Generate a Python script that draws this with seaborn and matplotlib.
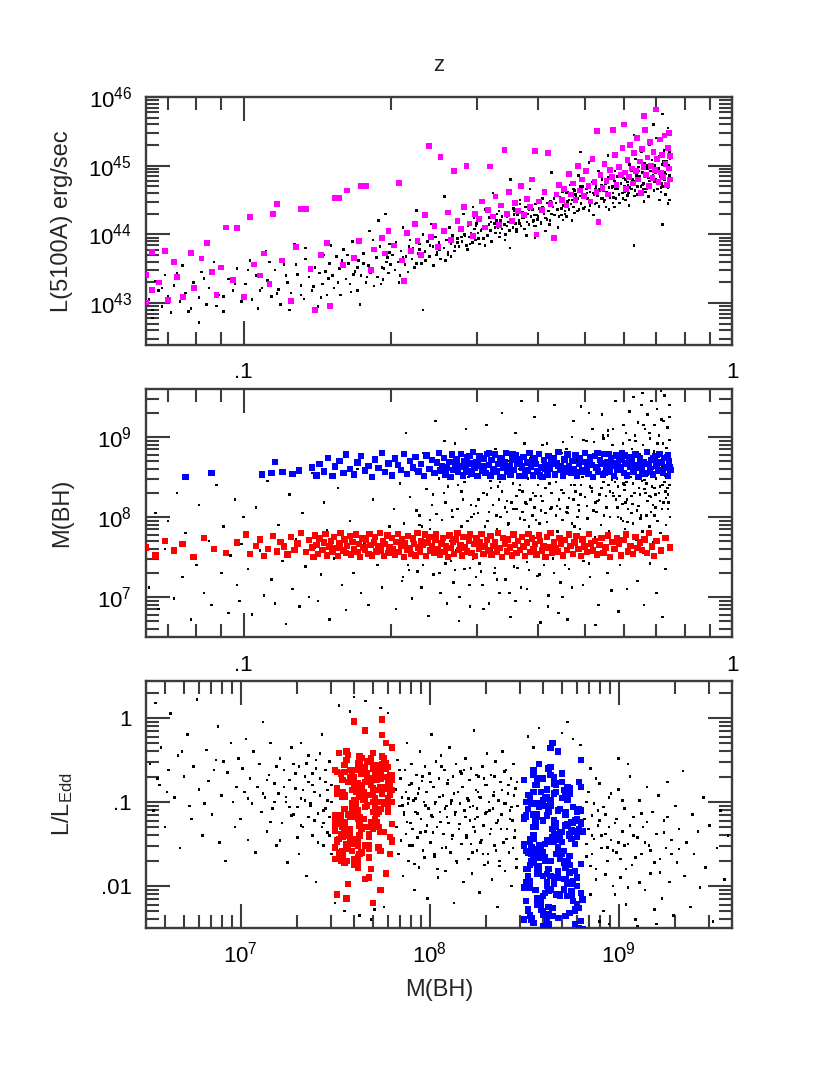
import numpy as np
import matplotlib
matplotlib.use('Agg')
import matplotlib.pyplot as plt
import seaborn as sns
from matplotlib.ticker import LogLocator, NullFormatter

# ---- top panel: redshift vs log L(5100A), all objects (black) ----
top_black = [
    (0.064, 43.05), (0.065, 42.78), (0.066, 43.32), (0.067, 43.18), (0.068, 42.95), (0.069, 43.41), (0.070, 43.10),
    (0.071, 42.86), (0.072, 43.26), (0.074, 43.02), (0.075, 43.55), (0.076, 43.15), (0.078, 42.92), (0.079, 43.30),
    (0.081, 43.08), (0.082, 43.45), (0.084, 42.98), (0.085, 43.22), (0.087, 43.60), (0.089, 43.12), (0.091, 42.88),
    (0.093, 43.35), (0.095, 43.18), (0.097, 43.50), (0.099, 43.02),
    (0.101, 43.28), (0.103, 43.62), (0.104, 43.05), (0.106, 43.40), (0.107, 42.92), (0.109, 43.22), (0.111, 43.75),
    (0.112, 43.33), (0.114, 43.10), (0.116, 43.48), (0.118, 43.20), (0.119, 42.98), (0.121, 43.56), (0.123, 43.30),
    (0.125, 43.15), (0.127, 43.85), (0.129, 43.42), (0.131, 43.26), (0.133, 43.06), (0.134, 43.64), (0.136, 43.38),
    (0.138, 43.18), (0.140, 43.52), (0.142, 42.95), (0.143, 43.44), (0.145, 43.28), (0.146, 43.70), (0.148, 43.12),
    (0.149, 43.36), (0.150, 43.58),
    (0.152, 43.40), (0.153, 43.22), (0.155, 43.68), (0.157, 43.50), (0.158, 43.12), (0.160, 43.78), (0.162, 43.35),
    (0.164, 43.58), (0.165, 43.28), (0.167, 43.90), (0.169, 43.46), (0.171, 43.18), (0.172, 43.62), (0.174, 43.40),
    (0.176, 43.72), (0.178, 43.30), (0.180, 43.55), (0.181, 44.05), (0.183, 43.48), (0.185, 43.25), (0.187, 43.66),
    (0.188, 43.38), (0.190, 43.82), (0.192, 43.52), (0.193, 43.34), (0.195, 44.30), (0.196, 43.60), (0.198, 43.44),
    (0.199, 43.74), (0.200, 43.56),
    (0.202, 43.70), (0.204, 43.48), (0.205, 43.88), (0.207, 43.60), (0.209, 43.40), (0.210, 43.76), (0.212, 44.10),
    (0.214, 43.56), (0.215, 43.68), (0.217, 43.45), (0.219, 43.92), (0.221, 43.64), (0.222, 43.80), (0.224, 43.52),
    (0.226, 44.35), (0.228, 43.72), (0.229, 43.86), (0.231, 43.58), (0.233, 44.00), (0.235, 43.75), (0.236, 43.62),
    (0.238, 43.90), (0.240, 43.68), (0.242, 44.15), (0.244, 43.82), (0.245, 43.55), (0.247, 43.96), (0.249, 43.74),
    (0.251, 43.88), (0.253, 43.64), (0.255, 44.05), (0.257, 43.80), (0.258, 44.55), (0.260, 43.92), (0.262, 43.70),
    (0.264, 44.10), (0.266, 43.86), (0.268, 43.98), (0.270, 43.76), (0.272, 44.20), (0.274, 43.94), (0.276, 43.82),
    (0.278, 44.06), (0.280, 43.90), (0.282, 44.30), (0.284, 43.98), (0.286, 43.84), (0.288, 44.12), (0.290, 43.96),
    (0.292, 44.02), (0.294, 43.88), (0.295, 44.40), (0.297, 44.08), (0.298, 43.92), (0.300, 44.16), (0.233, 42.90),
    (0.302, 44.02), (0.304, 43.86), (0.306, 44.22), (0.308, 44.08), (0.310, 43.94), (0.312, 44.36), (0.314, 44.12),
    (0.316, 43.98), (0.318, 44.25), (0.320, 44.06), (0.322, 43.90), (0.324, 44.60), (0.326, 44.16), (0.328, 44.02),
    (0.330, 44.30), (0.332, 44.10), (0.334, 43.96), (0.336, 44.20), (0.338, 44.08), (0.340, 44.42), (0.342, 44.14),
    (0.344, 44.00), (0.346, 44.26), (0.348, 44.18), (0.350, 44.06), (0.352, 44.80), (0.354, 44.22), (0.356, 44.10),
    (0.358, 44.34), (0.360, 44.16), (0.362, 44.04), (0.364, 44.28), (0.366, 44.20), (0.368, 44.50), (0.370, 44.12),
    (0.372, 44.32), (0.374, 44.24), (0.376, 44.08), (0.378, 44.40), (0.380, 44.18), (0.382, 44.30), (0.384, 44.14),
    (0.386, 44.66), (0.388, 44.26), (0.390, 44.36), (0.392, 44.20), (0.394, 44.12), (0.396, 44.44), (0.398, 44.28),
    (0.400, 44.22), (0.403, 44.38), (0.406, 44.16), (0.409, 44.52), (0.412, 44.30), (0.415, 44.24), (0.418, 44.46),
    (0.421, 44.34), (0.424, 44.20), (0.427, 44.90), (0.430, 44.40), (0.433, 44.28), (0.436, 44.56), (0.439, 44.36),
    (0.442, 44.26), (0.445, 44.48), (0.448, 44.38), (0.450, 44.62), (0.351, 43.80), (0.395, 43.95), (0.440, 44.10),
    (0.452, 44.42), (0.455, 44.30), (0.458, 44.60), (0.461, 44.48), (0.464, 44.36), (0.467, 44.72), (0.470, 44.50),
    (0.473, 44.40), (0.476, 44.64), (0.479, 44.54), (0.482, 44.34), (0.485, 44.86), (0.488, 44.56), (0.491, 44.46),
    (0.494, 44.70), (0.497, 44.58), (0.500, 44.40), (0.503, 44.66), (0.506, 44.52), (0.509, 45.05), (0.512, 44.62),
    (0.515, 44.48), (0.518, 44.76), (0.521, 44.60), (0.524, 44.44), (0.527, 44.70), (0.530, 44.56), (0.533, 44.92),
    (0.536, 44.66), (0.539, 44.52), (0.542, 44.80), (0.545, 44.64), (0.548, 44.50), (0.551, 44.74), (0.554, 44.62),
    (0.557, 45.15), (0.560, 44.68), (0.563, 44.56), (0.566, 44.84), (0.569, 44.70), (0.572, 44.54), (0.575, 44.78),
    (0.578, 44.66), (0.581, 44.98), (0.584, 44.72), (0.587, 44.58), (0.590, 44.86), (0.593, 44.74), (0.596, 44.60),
    (0.599, 44.82), (0.470, 44.20), (0.520, 44.28), (0.575, 44.40), (0.490, 45.20), (0.560, 44.36),
    (0.602, 44.70), (0.605, 44.50), (0.608, 44.88), (0.611, 44.76), (0.614, 44.60), (0.617, 45.02), (0.620, 44.82),
    (0.623, 44.66), (0.626, 44.94), (0.629, 44.78), (0.632, 44.56), (0.635, 45.10), (0.638, 44.86), (0.641, 44.70),
    (0.644, 44.98), (0.647, 44.84), (0.650, 44.62), (0.653, 45.20), (0.656, 44.90), (0.659, 44.74), (0.662, 45.04),
    (0.665, 44.88), (0.668, 44.66), (0.671, 44.96), (0.674, 44.82), (0.677, 45.30), (0.680, 44.92), (0.683, 44.72),
    (0.686, 45.08), (0.689, 44.86), (0.692, 44.64), (0.695, 45.00), (0.698, 44.90), (0.701, 45.40), (0.704, 44.94),
    (0.707, 44.76), (0.710, 45.14), (0.713, 44.88), (0.716, 44.68), (0.719, 45.02), (0.722, 44.92), (0.725, 45.22),
    (0.728, 44.80), (0.731, 44.58), (0.734, 45.06), (0.737, 44.96), (0.740, 44.74), (0.743, 45.28), (0.745, 44.86),
    (0.746, 45.10), (0.744, 44.50), (0.739, 45.55), (0.710, 44.50), (0.660, 44.48), (0.630, 45.45), (0.690, 45.60),
    (0.720, 45.75), (0.740, 44.45), (0.615, 44.42), (0.675, 44.55), (0.720, 44.14), (0.630, 43.84),
]
top_black_more = [
    (0.534, 44.41), (0.287, 43.78), (0.662, 44.95), (0.415, 44.05), (0.731, 44.72), (0.358, 44.29), (0.598, 44.52),
    (0.244, 43.96), (0.476, 44.31), (0.689, 45.02), (0.321, 44.18), (0.557, 44.83), (0.403, 44.47), (0.716, 44.62),
    (0.266, 43.68), (0.622, 44.93), (0.451, 44.21), (0.379, 43.98), (0.745, 45.20), (0.509, 44.35), (0.296, 44.24),
    (0.584, 44.66), (0.432, 44.52), (0.677, 44.78), (0.343, 43.92), (0.611, 44.57), (0.218, 43.82), (0.489, 44.70),
    (0.703, 44.66), (0.368, 44.44), (0.547, 44.48), (0.259, 43.62), (0.641, 44.58), (0.397, 44.12), (0.724, 45.06),
    (0.461, 44.62), (0.312, 43.84), (0.576, 44.92), (0.427, 44.30), (0.655, 44.72), (0.233, 43.72), (0.522, 44.58),
    (0.384, 44.36), (0.694, 44.98), (0.335, 44.02), (0.606, 44.80), (0.468, 44.44), (0.739, 44.68), (0.279, 43.96),
    (0.563, 44.54), (0.418, 44.22), (0.633, 44.64), (0.349, 44.32), (0.712, 44.84), (0.496, 44.38), (0.252, 43.78),
    (0.589, 44.46), (0.444, 44.54), (0.668, 44.88), (0.327, 44.10), (0.541, 44.72), (0.391, 44.18), (0.727, 44.90),
    (0.303, 43.94), (0.617, 44.68), (0.483, 44.52), (0.226, 43.58), (0.571, 44.60), (0.409, 44.40), (0.683, 44.70),
    (0.362, 44.08), (0.528, 44.46), (0.648, 44.82), (0.274, 43.88), (0.455, 44.34), (0.706, 45.12), (0.338, 44.26),
    (0.593, 44.74), (0.423, 44.14), (0.744, 44.82), (0.291, 43.86), (0.552, 44.40), (0.372, 44.24), (0.659, 44.66),
    (0.505, 44.60), (0.241, 43.84), (0.627, 44.76), (0.436, 44.46), (0.698, 44.80), (0.318, 44.14), (0.568, 44.68),
    (0.401, 44.26), (0.737, 44.96), (0.473, 44.66), (0.262, 43.74), (0.603, 44.62), (0.354, 44.20), (0.671, 45.00),
    (0.517, 44.50), (0.448, 44.28), (0.212, 43.66), (0.583, 44.84), (0.376, 44.30), (0.719, 44.74), (0.306, 44.06),
    (0.639, 44.86), (0.491, 44.44), (0.412, 44.34), (0.686, 44.92), (0.346, 44.12), (0.558, 44.56), (0.268, 43.92),
    (0.612, 44.72), (0.464, 44.50), (0.732, 44.88), (0.329, 44.20), (0.536, 44.64), (0.387, 44.42), (0.651, 44.70),
    (0.283, 44.00), (0.579, 44.52), (0.438, 44.36), (0.709, 44.96), (0.367, 44.16), (0.512, 44.42), (0.248, 43.70),
    (0.625, 44.80), (0.478, 44.58), (0.694, 44.76), (0.315, 43.98), (0.544, 44.52), (0.406, 44.18), (0.741, 45.00),
    (0.357, 44.38), (0.599, 44.90), (0.458, 44.26), (0.229, 43.78), (0.665, 44.62), (0.394, 44.28), (0.526, 44.66),
    (0.299, 44.12), (0.645, 44.92), (0.486, 44.36), (0.721, 44.70), (0.333, 44.34), (0.571, 44.46), (0.425, 44.48),
    (0.678, 44.82), (0.271, 43.82), (0.608, 44.66),
    (0.068, 43.22), (0.083, 43.36), (0.091, 43.10), (0.077, 42.88), (0.102, 43.48), (0.117, 43.14), (0.128, 43.56),
    (0.139, 43.24), (0.147, 43.46), (0.156, 43.30), (0.163, 43.70), (0.171, 43.52), (0.179, 43.38), (0.186, 43.76),
    (0.194, 43.50), (0.073, 43.44), (0.088, 42.96), (0.108, 43.18), (0.122, 43.40), (0.134, 43.80), (0.144, 43.08),
    (0.159, 43.62), (0.168, 43.42), (0.176, 43.58), (0.184, 43.92), (0.191, 43.28), (0.197, 43.66), (0.065, 42.90),
    (0.096, 43.28), (0.113, 43.60), (0.131, 43.12), (0.151, 43.84), (0.166, 43.16), (0.182, 43.44), (0.199, 43.86),
    (0.081, 42.72), (0.124, 42.90), (0.173, 42.98), (0.208, 43.30), (0.189, 44.20),
]

# magenta subsample in the top panel
top_magenta = [
    (0.063, 43.41), (0.063, 43.01), (0.065, 43.74), (0.065, 43.19), (0.067, 43.30), (0.069, 43.76), (0.070, 43.05),
    (0.072, 43.60), (0.073, 43.38), (0.075, 43.09), (0.078, 43.73), (0.079, 43.22), (0.082, 43.65), (0.084, 43.87),
    (0.086, 43.45), (0.088, 43.12), (0.090, 43.52), (0.092, 44.10), (0.095, 43.34), (0.097, 44.09),
    (0.100, 43.09), (0.103, 44.25), (0.105, 43.56), (0.108, 43.40), (0.110, 43.72), (0.113, 43.28), (0.115, 44.30),
    (0.117, 44.44), (0.120, 43.62), (0.125, 43.03), (0.128, 43.82), (0.131, 44.37), (0.134, 44.37), (0.137, 43.50),
    (0.140, 42.90), (0.144, 43.70), (0.148, 43.88), (0.150, 42.96), (0.154, 44.53), (0.157, 44.53), (0.160, 43.55),
    (0.163, 44.64), (0.168, 43.66), (0.172, 43.90), (0.174, 44.70), (0.178, 44.70), (0.182, 43.48), (0.185, 43.78),
    (0.192, 43.95), (0.195, 43.72), (0.198, 44.05),
    (0.203, 43.84), (0.208, 44.75), (0.211, 43.62), (0.213, 43.32), (0.216, 44.02), (0.220, 43.76), (0.224, 44.15),
    (0.227, 43.90), (0.231, 43.70), (0.235, 44.28), (0.240, 45.29), (0.242, 43.96), (0.246, 44.12), (0.250, 43.82),
    (0.253, 45.13), (0.257, 44.05), (0.262, 44.32), (0.266, 43.92), (0.270, 44.92), (0.274, 44.20), (0.279, 44.08),
    (0.283, 44.40), (0.286, 45.00), (0.290, 44.16), (0.295, 43.98), (0.298, 44.30),
    (0.303, 44.22), (0.308, 44.48), (0.312, 44.10), (0.316, 44.36), (0.320, 44.99), (0.324, 44.26), (0.328, 44.55),
    (0.333, 44.14), (0.337, 44.42), (0.342, 45.23), (0.346, 44.30), (0.350, 44.62), (0.355, 44.20), (0.360, 44.46),
    (0.365, 44.34), (0.370, 44.70), (0.375, 44.28), (0.380, 44.52), (0.386, 44.40), (0.390, 44.80), (0.395, 45.21),
    (0.398, 44.00), (0.402, 44.48), (0.408, 44.36), (0.413, 44.62), (0.420, 45.18), (0.425, 44.44), (0.432, 43.95),
    (0.437, 44.58), (0.443, 44.72), (0.448, 44.50),
    (0.453, 44.66), (0.458, 44.42), (0.463, 44.88), (0.468, 44.58), (0.473, 44.74), (0.478, 44.50), (0.483, 45.00),
    (0.488, 44.64), (0.493, 44.80), (0.498, 44.56), (0.503, 44.92), (0.508, 44.70), (0.513, 44.48), (0.518, 45.10),
    (0.523, 44.76), (0.528, 44.62), (0.530, 45.50), (0.533, 44.18), (0.538, 44.86), (0.543, 44.68), (0.548, 45.02),
    (0.553, 44.78), (0.558, 44.58), (0.563, 44.94), (0.568, 44.84), (0.570, 45.52), (0.575, 45.16), (0.580, 44.72),
    (0.586, 44.98), (0.592, 44.86), (0.597, 45.26),
    (0.600, 45.60), (0.603, 44.90), (0.607, 44.66), (0.611, 45.08), (0.615, 44.84), (0.619, 45.30), (0.623, 44.96),
    (0.627, 44.74), (0.631, 45.18), (0.635, 44.92), (0.639, 45.40), (0.643, 44.80), (0.647, 45.06), (0.651, 44.60),
    (0.655, 45.24), (0.659, 44.98), (0.660, 45.72), (0.663, 45.52), (0.667, 44.86), (0.671, 45.12), (0.675, 44.70),
    (0.679, 45.34), (0.683, 45.00), (0.687, 44.82), (0.691, 45.20), (0.695, 44.94), (0.700, 45.82), (0.703, 45.10),
    (0.707, 44.76), (0.711, 45.38), (0.715, 44.90), (0.719, 45.16), (0.723, 44.84), (0.727, 45.44), (0.731, 45.02),
    (0.735, 44.72), (0.739, 45.26), (0.742, 44.96), (0.744, 45.48), (0.746, 45.14), (0.746, 44.80),
]

# ---- middle panel: redshift vs log M(BH), all objects (black) ----
mid_black = [
    (0.064, 7.12), (0.066, 8.05), (0.067, 6.85), (0.069, 7.60), (0.070, 7.95), (0.072, 6.98), (0.073, 8.30),
    (0.075, 7.25), (0.076, 7.80), (0.078, 6.72), (0.080, 7.40), (0.081, 8.15), (0.083, 7.05), (0.085, 7.70),
    (0.086, 6.90), (0.088, 8.40), (0.090, 7.30), (0.091, 7.88), (0.093, 6.80), (0.094, 7.52), (0.096, 8.22),
    (0.097, 7.15), (0.098, 6.95), (0.099, 7.66), (0.100, 8.00),
    (0.102, 7.35), (0.104, 6.78), (0.106, 8.12), (0.108, 7.58), (0.110, 7.02), (0.112, 8.45), (0.114, 7.22),
    (0.116, 6.92), (0.118, 7.90), (0.120, 7.45), (0.122, 6.66), (0.124, 8.28), (0.126, 7.10), (0.128, 7.72),
    (0.130, 6.88), (0.132, 8.05), (0.134, 7.38), (0.136, 7.00), (0.138, 8.55), (0.140, 7.62), (0.142, 6.95),
    (0.144, 7.28), (0.146, 8.18), (0.148, 7.84), (0.150, 6.72), (0.153, 7.48), (0.156, 8.36), (0.159, 7.15),
    (0.162, 6.84), (0.165, 7.95), (0.168, 7.30), (0.171, 8.60), (0.174, 7.05), (0.177, 7.68), (0.180, 6.90),
    (0.184, 8.22), (0.188, 7.40), (0.192, 7.12), (0.196, 8.70), (0.199, 7.88),
    (0.201, 7.55), (0.203, 8.10), (0.205, 6.85), (0.207, 7.78), (0.209, 8.42), (0.211, 7.20), (0.213, 7.92),
    (0.215, 9.05), (0.217, 7.40), (0.219, 8.25), (0.221, 6.98), (0.223, 7.65), (0.225, 8.58), (0.227, 7.32),
    (0.229, 8.02), (0.231, 7.12), (0.233, 8.80), (0.235, 7.50), (0.237, 8.35), (0.239, 6.76), (0.241, 7.85),
    (0.243, 8.15), (0.245, 7.28), (0.247, 9.20), (0.249, 7.62), (0.251, 8.48), (0.253, 7.05), (0.255, 7.96),
    (0.257, 8.30), (0.259, 7.42), (0.261, 6.92), (0.263, 8.65), (0.265, 7.70), (0.267, 8.08), (0.269, 7.18),
    (0.271, 8.92), (0.273, 7.58), (0.275, 8.40), (0.277, 7.00), (0.279, 7.88), (0.281, 8.22), (0.283, 7.35),
    (0.285, 9.10), (0.287, 7.75), (0.289, 8.50), (0.291, 6.88), (0.293, 8.00), (0.295, 7.48), (0.297, 8.70),
    (0.299, 7.25), (0.292, 8.15), (0.276, 6.70), (0.258, 8.95), (0.232, 7.88), (0.212, 8.60),
    (0.302, 8.05), (0.304, 7.42), (0.306, 8.62), (0.308, 7.15), (0.310, 8.30), (0.312, 7.70), (0.314, 9.15),
    (0.316, 7.95), (0.318, 6.92), (0.320, 8.45), (0.322, 7.58), (0.324, 8.15), (0.326, 7.30), (0.328, 8.85),
    (0.330, 7.85), (0.332, 8.38), (0.334, 7.05), (0.336, 8.00), (0.338, 9.30), (0.340, 7.68), (0.342, 8.52),
    (0.344, 7.22), (0.346, 8.20), (0.348, 7.90), (0.350, 8.70), (0.352, 6.75), (0.354, 7.50), (0.356, 8.42),
    (0.358, 7.80), (0.360, 9.05), (0.362, 8.10), (0.364, 7.36), (0.366, 8.60), (0.368, 7.98), (0.370, 7.12),
    (0.372, 8.32), (0.374, 7.62), (0.376, 8.92), (0.378, 8.18), (0.380, 7.44), (0.382, 8.48), (0.384, 7.88),
    (0.386, 6.95), (0.388, 8.75), (0.390, 8.02), (0.392, 7.55), (0.394, 9.25), (0.396, 8.26), (0.398, 7.74),
    (0.400, 8.55), (0.403, 7.28), (0.406, 8.08), (0.409, 8.90), (0.412, 7.66), (0.415, 8.36), (0.418, 7.94),
    (0.421, 7.02), (0.424, 8.64), (0.427, 8.12), (0.430, 7.48), (0.433, 9.40), (0.436, 8.44), (0.439, 7.82),
    (0.442, 8.22), (0.445, 7.18), (0.448, 8.80), (0.450, 7.96), (0.441, 6.80), (0.405, 6.68), (0.371, 9.45),
    (0.452, 8.30), (0.455, 7.70), (0.458, 8.85), (0.461, 8.05), (0.464, 7.35), (0.467, 8.58), (0.470, 7.92),
    (0.473, 9.20), (0.476, 8.40), (0.479, 7.60), (0.482, 8.72), (0.485, 8.15), (0.488, 7.85), (0.491, 9.38),
    (0.494, 8.50), (0.497, 7.45), (0.500, 8.25), (0.503, 8.95), (0.506, 7.98), (0.509, 8.62), (0.512, 7.25),
    (0.515, 8.36), (0.518, 9.10), (0.521, 8.08), (0.524, 7.75), (0.527, 8.80), (0.530, 8.20), (0.533, 6.90),
    (0.536, 8.55), (0.539, 7.90), (0.542, 9.28), (0.545, 8.44), (0.548, 7.62), (0.551, 8.68), (0.554, 8.12),
    (0.557, 9.02), (0.560, 7.82), (0.563, 8.32), (0.566, 7.08), (0.569, 8.90), (0.572, 8.26), (0.575, 7.70),
    (0.578, 9.45), (0.581, 8.48), (0.584, 8.00), (0.587, 8.78), (0.590, 7.40), (0.593, 8.60), (0.596, 8.16),
    (0.599, 9.15), (0.460, 6.72), (0.495, 7.15), (0.525, 6.65), (0.556, 7.30), (0.585, 6.82), (0.470, 9.00),
    (0.510, 9.30), (0.545, 8.98), (0.575, 8.70), (0.598, 7.95),
    (0.602, 8.40), (0.604, 7.85), (0.607, 9.05), (0.609, 8.22), (0.612, 8.68), (0.614, 7.60), (0.617, 9.32),
    (0.619, 8.50), (0.622, 8.05), (0.624, 8.85), (0.627, 7.92), (0.629, 9.50), (0.632, 8.30), (0.634, 8.95),
    (0.637, 7.72), (0.639, 8.62), (0.642, 9.18), (0.644, 8.14), (0.647, 8.78), (0.649, 7.98), (0.652, 9.40),
    (0.654, 8.45), (0.657, 8.90), (0.659, 7.55), (0.662, 8.35), (0.664, 9.10), (0.667, 8.70), (0.669, 8.02),
    (0.672, 9.28), (0.674, 8.55), (0.677, 7.88), (0.679, 8.98), (0.682, 8.25), (0.684, 9.45), (0.687, 8.60),
    (0.689, 7.68), (0.692, 8.82), (0.694, 9.15), (0.697, 8.12), (0.699, 8.48), (0.702, 9.35), (0.704, 7.95),
    (0.707, 8.75), (0.709, 9.02), (0.712, 8.38), (0.714, 7.80), (0.717, 9.22), (0.719, 8.64), (0.722, 8.92),
    (0.724, 8.18), (0.727, 9.52), (0.729, 8.52), (0.732, 7.90), (0.734, 8.86), (0.737, 9.12), (0.739, 8.28),
    (0.742, 8.70), (0.744, 9.40), (0.746, 8.00), (0.745, 8.96), (0.640, 7.20), (0.700, 7.05), (0.660, 6.90),
    (0.730, 7.35), (0.610, 7.10), (0.680, 7.42), (0.720, 6.75), (0.655, 9.55), (0.715, 9.58), (0.740, 7.60),
]
mid_black_more = [
    (0.534, 8.21), (0.287, 7.95), (0.662, 8.46), (0.415, 8.05), (0.731, 8.32), (0.358, 7.38), (0.598, 8.92),
    (0.244, 8.28), (0.476, 7.88), (0.689, 8.15), (0.321, 8.36), (0.557, 9.08), (0.403, 7.92), (0.716, 8.58),
    (0.266, 7.45), (0.622, 8.26), (0.451, 8.94), (0.379, 8.16), (0.745, 8.40), (0.509, 7.42), (0.296, 8.04),
    (0.584, 8.38), (0.432, 7.30), (0.677, 9.05), (0.343, 8.12), (0.611, 7.94), (0.218, 7.34), (0.489, 8.28),
    (0.703, 8.92), (0.368, 8.40), (0.547, 8.02), (0.259, 8.18), (0.641, 8.52), (0.397, 7.96), (0.724, 9.20),
    (0.461, 8.12), (0.312, 7.88), (0.576, 8.44), (0.427, 8.30), (0.655, 7.82), (0.233, 7.40), (0.522, 8.94),
    (0.384, 7.34), (0.694, 8.36), (0.335, 8.44), (0.606, 8.18), (0.468, 8.40), (0.739, 8.10), (0.279, 8.32),
    (0.563, 8.00), (0.418, 8.92), (0.633, 9.02), (0.349, 7.92), (0.712, 8.20), (0.496, 8.96), (0.252, 7.30),
    (0.589, 8.26), (0.444, 8.10), (0.668, 8.42), (0.327, 7.36), (0.541, 8.36), (0.391, 8.30), (0.727, 8.44),
    (0.303, 8.22), (0.617, 8.96), (0.483, 8.00), (0.226, 8.08), (0.571, 9.10), (0.409, 8.20), (0.683, 8.06),
    (0.362, 8.26), (0.528, 8.06), (0.648, 8.28), (0.274, 8.10), (0.455, 7.40), (0.706, 8.64), (0.338, 8.32),
    (0.593, 7.98), (0.423, 8.42), (0.744, 9.25), (0.291, 7.36), (0.552, 8.26), (0.372, 8.06), (0.659, 9.15),
    (0.505, 8.14), (0.241, 7.96), (0.627, 8.42), (0.436, 8.02), (0.698, 8.28), (0.318, 8.06), (0.568, 8.46),
    (0.401, 8.40), (0.737, 8.36), (0.473, 8.22), (0.262, 8.38), (0.603, 8.34), (0.354, 8.18), (0.671, 8.20),
    (0.517, 8.32), (0.448, 8.34), (0.212, 7.25), (0.583, 8.12), (0.376, 7.96), (0.719, 8.10), (0.306, 7.32),
    (0.639, 8.08), (0.491, 8.40), (0.412, 7.40), (0.686, 8.38), (0.346, 8.06), (0.558, 8.40), (0.268, 8.00),
    (0.612, 8.10), (0.464, 8.24), (0.732, 8.24), (0.329, 8.02), (0.536, 8.28), (0.387, 8.22), (0.651, 8.02),
    (0.283, 8.44), (0.579, 8.22), (0.438, 8.14), (0.709, 8.30), (0.367, 8.34), (0.512, 8.38), (0.248, 8.04),
    (0.625, 8.16), (0.478, 8.32), (0.694, 8.02), (0.315, 8.28), (0.544, 9.02), (0.406, 8.26), (0.741, 8.18),
    (0.357, 8.10), (0.599, 8.42), (0.458, 8.06), (0.229, 7.90), (0.665, 8.30), (0.394, 8.12), (0.526, 8.18),
    (0.299, 8.14), (0.645, 8.36), (0.486, 8.08), (0.721, 8.40), (0.333, 8.22), (0.571, 8.30), (0.425, 8.10),
    (0.678, 8.26), (0.271, 7.34), (0.608, 8.44),
    (0.450, 7.00), (0.380, 7.10), (0.330, 7.22), (0.420, 6.88), (0.290, 7.15), (0.360, 6.95), (0.400, 7.26),
    (0.470, 7.12), (0.310, 6.85), (0.350, 7.05),
]

# ---- red selection: 3e7 < M(BH) < 6.5e7 (middle and bottom panels) ----
red_z = [
    0.063, 0.066, 0.069, 0.072, 0.075, 0.079, 0.083, 0.087, 0.092, 0.097,
    0.101, 0.103, 0.106, 0.108, 0.110, 0.112, 0.115, 0.117, 0.119, 0.121,
    0.123, 0.125, 0.127, 0.129, 0.131, 0.134, 0.136, 0.138, 0.139, 0.140,
    0.141, 0.142, 0.143, 0.145, 0.146, 0.147, 0.148, 0.150, 0.151, 0.152,
    0.153, 0.155, 0.156, 0.157, 0.158, 0.160, 0.161, 0.162, 0.163, 0.165,
    0.166, 0.167, 0.168, 0.170, 0.171, 0.172, 0.173, 0.175, 0.176, 0.177,
    0.178, 0.180, 0.181, 0.182, 0.183, 0.185, 0.186, 0.187, 0.189, 0.190,
    0.191, 0.193, 0.194, 0.195, 0.197, 0.198, 0.199, 0.201, 0.202, 0.204,
    0.205, 0.207, 0.208, 0.210, 0.211, 0.213, 0.214, 0.216, 0.217, 0.219,
    0.220, 0.222, 0.223, 0.225, 0.227, 0.228, 0.230, 0.231, 0.233, 0.235,
    0.236, 0.238, 0.240, 0.241, 0.243, 0.245, 0.247, 0.248, 0.250, 0.252,
    0.254, 0.256, 0.258, 0.260, 0.262, 0.264, 0.266, 0.268, 0.270, 0.272,
    0.274, 0.276, 0.278, 0.280, 0.282, 0.284, 0.287, 0.289, 0.291, 0.293,
    0.296, 0.298, 0.300, 0.303, 0.305, 0.307, 0.310, 0.312, 0.315, 0.317,
    0.320, 0.322, 0.325, 0.327, 0.330, 0.332, 0.335, 0.338, 0.340, 0.343,
    0.346, 0.348, 0.351, 0.354, 0.357, 0.359, 0.362, 0.365, 0.368, 0.371,
    0.374, 0.377, 0.380, 0.383, 0.386, 0.389, 0.392, 0.395, 0.398, 0.402,
    0.405, 0.408, 0.411, 0.415, 0.418, 0.421, 0.425, 0.428, 0.432, 0.435,
    0.439, 0.443, 0.447, 0.451, 0.455, 0.459, 0.463, 0.467, 0.472, 0.476,
    0.480, 0.485, 0.490, 0.494, 0.499, 0.504, 0.509, 0.514, 0.519, 0.524,
    0.529, 0.535, 0.540, 0.546, 0.551, 0.557, 0.563, 0.569, 0.575, 0.581,
    0.587, 0.593, 0.600, 0.606, 0.613, 0.620, 0.627, 0.634, 0.641, 0.648,
    0.655, 0.662, 0.670, 0.677, 0.685, 0.693, 0.701, 0.716, 0.731, 0.746,
]
red_logm = [
    7.62, 7.52, 7.70, 7.58, 7.66, 7.50, 7.74, 7.60, 7.55, 7.68,
    7.78, 7.54, 7.64, 7.72, 7.51, 7.60, 7.76, 7.57, 7.69, 7.63,
    7.53, 7.75, 7.59, 7.67, 7.80, 7.56, 7.71, 7.62, 7.50, 7.77,
    7.65, 7.54, 7.73, 7.59, 7.68, 7.79, 7.52, 7.63, 7.70, 7.57,
    7.75, 7.61, 7.51, 7.67, 7.80, 7.58, 7.72, 7.55, 7.64, 7.76,
    7.53, 7.69, 7.60, 7.78, 7.56, 7.66, 7.50, 7.73, 7.62, 7.59,
    7.71, 7.54, 7.79, 7.65, 7.52, 7.68, 7.75, 7.57, 7.63, 7.80,
    7.58, 7.70, 7.51, 7.66, 7.77, 7.55, 7.62, 7.74, 7.60, 7.53,
    7.69, 7.79, 7.56, 7.64, 7.72, 7.50, 7.67, 7.59, 7.76, 7.61,
    7.54, 7.73, 7.66, 7.52, 7.80, 7.62, 7.57, 7.70, 7.65, 7.78,
    7.51, 7.68, 7.75, 7.58, 7.63, 7.55, 7.71, 7.79, 7.60, 7.53,
    7.67, 7.74, 7.56, 7.64, 7.50, 7.77, 7.61, 7.69, 7.54, 7.72,
    7.80, 7.59, 7.65, 7.52, 7.75, 7.62, 7.57, 7.70, 7.78, 7.55,
    7.66, 7.51, 7.73, 7.60, 7.68, 7.79, 7.54, 7.63, 7.71, 7.58,
    7.76, 7.53, 7.64, 7.69, 7.56, 7.80, 7.61, 7.50, 7.74, 7.67,
    7.57, 7.72, 7.62, 7.52, 7.78, 7.65, 7.55, 7.70, 7.59, 7.75,
    7.63, 7.51, 7.68, 7.79, 7.56, 7.73, 7.60, 7.66, 7.53, 7.77,
    7.70, 7.58, 7.64, 7.50, 7.75, 7.62, 7.80, 7.55, 7.69, 7.61,
    7.57, 7.74, 7.66, 7.52, 7.71, 7.59, 7.78, 7.64, 7.54, 7.68,
    7.76, 7.60, 7.51, 7.72, 7.63, 7.56, 7.79, 7.67, 7.58, 7.70,
    7.53, 7.65, 7.74, 7.55, 7.62, 7.77, 7.50, 7.69, 7.60, 7.73,
    7.66, 7.52, 7.71, 7.78, 7.57, 7.64, 7.54, 7.75, 7.61, 7.68,
    7.59, 7.72, 7.55, 7.80, 7.63, 7.51, 7.70, 7.58, 7.74, 7.62,
]
red_loglam = [
    -0.85, -1.22, -0.60, -1.45, -0.98, -1.68, -0.72, -1.10, -1.35, -0.52,
    -1.02, -1.58, -0.66, -1.28, -0.90, -1.75, -0.48, -1.15, -0.80, -1.40,
    -1.62, -0.55, -1.05, -1.30, -0.74, -1.50, -0.95, -1.20, -0.62, -1.85,
    -0.88, -1.42, -0.58, -1.12, -1.66, -0.78, -1.25, -0.45, -1.00, -1.55,
    -0.70, -1.18, -1.48, -0.92, -0.35, -1.32, -0.64, -1.08, -1.60, -0.82,
    -1.38, -0.50, -1.14, -0.76, -1.70, -0.96, -1.26, -0.56, -1.44, -0.86,
    -1.06, -1.64, -0.68, -1.20, -0.42, -1.52, -0.90, -1.34, -0.60, -1.00,
    -1.46, -0.72, -1.16, -1.92, -0.84, -1.28, -0.54, -1.58, -0.98, -0.66,
    -1.24, -0.80, -1.40, -0.48, -1.10, -1.68, -0.74, -1.02, -1.36, -0.62,
    -0.94, -1.54, -0.58, -1.22, -0.86, -1.74, -0.44, -1.12, -1.30, -0.70,
    -1.48, -0.92, -0.20, -1.18, -1.62, -0.64, -1.04, -1.42, -0.78, -1.26,
    -0.52, -1.08, -1.56, -0.82, -1.34, -0.60, -1.00, -1.80, -0.88, -1.14,
    -0.68, -1.44, -0.96, -1.22, -0.46, -1.66, -0.76, -1.32, -1.06, -0.56,
    -1.52, -0.84, -1.12, -0.04, -1.38, -0.72, -1.58, -0.94, -1.20, -0.62,
    -1.02, -1.70, -0.80, -1.28, -0.50, -1.46, -0.88, -1.16, -2.05, -0.66,
    -1.36, -0.74, -1.10, -1.60, -0.58, -0.98, -1.24, -0.42, -1.50, -0.86,
    -1.18, -0.64, -1.42, -0.92, -2.15, -1.30, -0.70, -1.06, -1.64, -0.54,
    -0.90, -1.34, -0.60, -1.54, -1.00, -0.78, -1.26, -1.72, -0.48, -1.12,
    -1.40, -0.82, -0.15, -1.20, -0.66, -1.58, -0.96, -1.32, -0.74, -1.90,
    -0.58, -1.08, -1.46, -0.86, -1.28, -0.40, -1.62, -1.04, -0.70, -2.20,
    -1.16, -0.62, -1.36, -0.94, -1.52, -0.30, -1.22, -0.80, -1.68, -1.00,
    -0.76, -1.44, -0.56, -1.12, -1.98, -0.88, -1.30, -0.02, -1.06, -1.56,
    -0.68, -1.24, -0.92, -1.48, -0.52, -2.10, -0.84, -1.38, -0.64, -1.78,
]

# ---- blue selection: 3e8 < M(BH) < 6.5e8 ----
blue_z = [
    0.076, 0.086, 0.109, 0.114, 0.116, 0.120, 0.126, 0.130, 0.138, 0.141,
    0.143, 0.146, 0.149, 0.152, 0.154, 0.157, 0.160, 0.162, 0.165, 0.168,
    0.171, 0.174, 0.177, 0.180, 0.183, 0.186, 0.189, 0.192, 0.195, 0.198,
    0.201, 0.204, 0.207, 0.210, 0.213, 0.216, 0.219, 0.222, 0.225, 0.228,
    0.231, 0.234, 0.237, 0.240, 0.243, 0.246, 0.249, 0.251, 0.253, 0.255,
    0.257, 0.259, 0.261, 0.263, 0.265, 0.267, 0.269, 0.271, 0.273, 0.275,
    0.277, 0.279, 0.281, 0.283, 0.285, 0.287, 0.289, 0.291, 0.293, 0.295,
    0.297, 0.299, 0.301, 0.304, 0.306, 0.308, 0.311, 0.313, 0.315, 0.318,
    0.320, 0.322, 0.325, 0.327, 0.330, 0.332, 0.335, 0.337, 0.340, 0.342,
    0.345, 0.347, 0.350, 0.352, 0.355, 0.358, 0.360, 0.363, 0.366, 0.368,
    0.371, 0.374, 0.377, 0.380, 0.382, 0.385, 0.388, 0.391, 0.394, 0.397,
    0.400, 0.403, 0.406, 0.409, 0.412, 0.415, 0.418, 0.421, 0.424, 0.428,
    0.431, 0.434, 0.437, 0.441, 0.444, 0.447, 0.451, 0.454, 0.457, 0.461,
    0.464, 0.468, 0.471, 0.475, 0.478, 0.482, 0.486, 0.489, 0.493, 0.497,
    0.500, 0.504, 0.508, 0.512, 0.516, 0.520, 0.524, 0.528, 0.532, 0.536,
    0.540, 0.544, 0.548, 0.552, 0.556, 0.561, 0.565, 0.569, 0.574, 0.578,
    0.583, 0.587, 0.592, 0.596, 0.601, 0.605, 0.610, 0.615, 0.619, 0.624,
    0.629, 0.634, 0.639, 0.644, 0.649, 0.654, 0.659, 0.664, 0.669, 0.674,
    0.679, 0.684, 0.690, 0.695, 0.700, 0.706, 0.711, 0.717, 0.722, 0.728,
    0.733, 0.739, 0.744, 0.748, 0.604, 0.545, 0.486, 0.427, 0.372, 0.318,
    0.655, 0.575, 0.512, 0.455, 0.405, 0.355, 0.301, 0.720, 0.690, 0.630,
    0.560, 0.495, 0.440, 0.390, 0.340, 0.290, 0.745, 0.705, 0.665, 0.615,
    0.585, 0.530, 0.475, 0.420, 0.365, 0.310, 0.270, 0.740, 0.680, 0.640,
    0.595, 0.550, 0.505, 0.460, 0.415, 0.375, 0.335, 0.285, 0.735, 0.710,
]
blue_logm = [
    8.50, 8.55, 8.53, 8.55, 8.69, 8.56, 8.54, 8.58, 8.62, 8.52,
    8.66, 8.57, 8.74, 8.51, 8.63, 8.70, 8.55, 8.78, 8.60, 8.53,
    8.68, 8.76, 8.58, 8.64, 8.50, 8.72, 8.61, 8.80, 8.56, 8.67,
    8.52, 8.73, 8.65, 8.59, 8.79, 8.54, 8.70, 8.62, 8.75, 8.57,
    8.66, 8.51, 8.77, 8.60, 8.71, 8.55, 8.68, 8.80, 8.58, 8.64,
    8.74, 8.53, 8.62, 8.69, 8.50, 8.78, 8.59, 8.66, 8.72, 8.56,
    8.63, 8.79, 8.52, 8.70, 8.60, 8.75, 8.57, 8.67, 8.54, 8.81,
    8.61, 8.68, 8.51, 8.76, 8.64, 8.58, 8.73, 8.55, 8.79, 8.65,
    8.52, 8.71, 8.60, 8.78, 8.57, 8.66, 8.50, 8.74, 8.62, 8.69,
    8.80, 8.56, 8.64, 8.53, 8.72, 8.59, 8.77, 8.67, 8.51, 8.70,
    8.61, 8.75, 8.54, 8.68, 8.58, 8.80, 8.63, 8.52, 8.73, 8.66,
    8.57, 8.79, 8.62, 8.50, 8.71, 8.65, 8.55, 8.76, 8.60, 8.68,
    8.74, 8.53, 8.67, 8.81, 8.59, 8.64, 8.51, 8.72, 8.57, 8.78,
    8.63, 8.55, 8.70, 8.60, 8.77, 8.52, 8.66, 8.74, 8.58, 8.69,
    8.80, 8.61, 8.54, 8.73, 8.65, 8.50, 8.76, 8.62, 8.57, 8.71,
    8.67, 8.53, 8.79, 8.60, 8.68, 8.56, 8.74, 8.64, 8.51, 8.77,
    8.59, 8.72, 8.62, 8.80, 8.55, 8.67, 8.52, 8.75, 8.63, 8.70,
    8.57, 8.78, 8.65, 8.50, 8.73, 8.61, 8.69, 8.54, 8.81, 8.66,
    8.60, 8.71, 8.53, 8.76, 8.64, 8.58, 8.79, 8.68, 8.55, 8.74,
    8.62, 8.51, 8.70, 8.59, 8.77, 8.66, 8.56, 8.72, 8.63, 8.80,
    8.54, 8.67, 8.75, 8.61, 8.52, 8.78, 8.69, 8.58, 8.73, 8.65,
    8.79, 8.57, 8.64, 8.71, 8.50, 8.76, 8.62, 8.68, 8.55, 8.74,
    8.66, 8.80, 8.59, 8.53, 8.72, 8.63, 8.69, 8.77, 8.56, 8.61,
    8.73, 8.55, 8.67, 8.78, 8.60, 8.51, 8.70, 8.64, 8.75, 8.58,
]
blue_loglam = [
    -1.20, -1.65, -0.95, -1.40, -2.10, -0.80, -1.55, -1.85, -1.05, -2.30,
    -1.30, -0.72, -1.75, -2.00, -1.12, -1.48, -0.88, -2.22, -1.60, -1.00,
    -1.90, -1.35, -0.55, -1.70, -2.40, -1.15, -1.50, -0.82, -2.05, -1.25,
    -1.80, -0.98, -1.42, -2.28, -1.08, -1.62, -0.76, -1.95, -1.33, -2.15,
    -0.90, -1.58, -2.45, -1.22, -1.72, -0.62, -1.45, -2.08, -1.02, -1.88,
    -1.38, -2.35, -0.85, -1.68, -1.18, -2.00, -1.52, -0.70, -1.92, -1.28,
    -2.25, -1.10, -1.60, -0.95, -2.12, -1.44, -1.78, -0.80, -2.38, -1.35,
    -1.05, -1.82, -2.18, -1.25, -0.68, -1.55, -1.98, -1.15, -2.50, -1.48,
    -0.92, -1.70, -2.30, -1.20, -1.62, -0.78, -2.02, -1.40, -1.86, -1.08,
    -2.42, -1.30, -0.58, -1.75, -1.12, -2.20, -1.50, -0.88, -1.95, -1.36,
    -1.66, -2.10, -1.02, -0.40, -1.84, -1.24, -2.34, -1.58, -0.96, -1.90,
    -1.18, -2.26, -1.46, -0.74, -2.04, -1.32, -1.72, -1.06, -2.48, -1.54,
    -0.84, -1.94, -1.28, -2.16, -1.64, -0.98, -1.80, -2.36, -1.14, -1.42,
    -2.06, -1.56, -0.66, -1.88, -1.22, -2.28, -1.38, -0.90, -1.76, -2.12,
    -1.10, -1.68, -2.40, -1.26, -0.30, -1.52, -1.98, -1.16, -2.22, -0.86,
    -1.62, -2.02, -1.34, -0.72, -1.90, -1.20, -2.32, -1.48, -1.00, -1.82,
    -2.14, -1.28, -0.94, -1.74, -2.44, -1.40, -1.08, -1.96, -0.60, -1.58,
    -1.86, -1.12, -2.26, -1.50, -0.82, -2.08, -1.36, -1.70, -2.52, -1.22,
    -0.98, -1.92, -1.44, -2.18, -1.04, -1.66, -0.76, -2.38, -1.30, -1.84,
    -2.00, -1.18, -1.60, -0.88, -2.30, -1.46, -1.14, -1.78, -2.46, -0.50,
    -1.54, -2.10, -1.24, -0.96, -1.88, -2.24, -1.42, -1.06, -1.72, -2.36,
    -1.32, -0.80, -2.04, -1.58, -1.20, -1.94, -2.42, -1.10, -0.68, -1.64,
    -1.98, -1.26, -2.20, -1.48, -0.92, -1.80, -1.36, -2.28, -1.02, -1.70,
    -2.12, -1.44, -0.78, -1.90, -2.34, -1.16, -1.62, -0.36, -2.06, -1.52,
]

# ---- bottom panel: log M(BH) vs log L/LEdd, all objects (black) ----
bot_black = [
    (6.52, -0.55), (6.54, -1.10), (6.55, 0.18), (6.57, -0.80), (6.58, -0.35), (6.60, -1.30), (6.62, -0.62),
    (6.63, 0.05), (6.65, -0.95), (6.67, -0.45), (6.68, -1.55), (6.70, -0.70), (6.72, -0.20), (6.73, -1.05),
    (6.75, -0.58), (6.77, 0.22), (6.78, -0.85), (6.80, -1.40), (6.82, -0.38), (6.83, -0.75), (6.85, -1.15),
    (6.87, -0.50), (6.88, -0.10), (6.90, -0.92), (6.92, -1.70), (6.93, -0.65), (6.95, -0.30), (6.96, -1.00),
    (6.98, -0.82), (6.99, -0.48),
    (7.00, -1.20), (7.01, -0.60), (7.02, -0.88), (7.03, -0.25), (7.04, -1.45), (7.05, -0.72), (7.06, -1.02),
    (7.07, -0.40), (7.08, -1.60), (7.09, -0.82), (7.10, -0.55), (7.11, -1.12), (7.12, -0.05), (7.13, -0.95),
    (7.14, -1.35), (7.15, -0.68), (7.16, -0.30), (7.17, -1.08), (7.18, -0.78), (7.19, -1.52), (7.20, -0.90),
    (7.21, -0.48), (7.22, -1.25), (7.23, -0.62), (7.24, -1.00), (7.25, -1.72), (7.26, -0.74), (7.27, -0.35),
    (7.28, -1.15), (7.29, -0.84), (7.30, -1.42), (7.31, -0.58), (7.32, -0.96), (7.33, -1.30), (7.34, -0.70),
    (7.35, -1.88), (7.36, -0.45), (7.37, -1.05), (7.38, -0.80), (7.39, -1.22), (7.40, -0.60), (7.41, -1.48),
    (7.42, -0.92), (7.43, -0.20), (7.44, -1.10), (7.45, -0.76), (7.46, -1.36), (7.47, -0.52), (7.48, -1.00),
    (7.48, -1.62), (7.46, -0.86), (7.44, -1.25), (7.42, -0.42), (7.40, -1.95), (7.38, -0.66), (7.36, -1.18),
    (7.34, -0.98), (7.32, -0.30), (7.30, -1.06), (7.28, -0.55),
    (7.52, 0.15), (7.58, 0.08), (7.66, 0.20), (7.74, 0.12), (7.55, -2.30), (7.63, -2.35), (7.71, -2.28),
    (7.78, 0.06), (7.60, 0.25), (7.69, -2.40), (7.76, -2.25), (7.50, -2.20),
    (7.820, -0.85), (7.825, -1.30), (7.830, -0.50), (7.835, -1.62), (7.840, -1.05), (7.845, -0.72), (7.850, -1.45),
    (7.855, -0.95), (7.860, -1.88), (7.865, -1.15), (7.870, -0.62), (7.875, -1.38), (7.880, -0.30), (7.885, -1.02),
    (7.890, -1.70), (7.895, -0.80), (7.900, -1.25), (7.905, -0.55), (7.910, -1.52), (7.915, -0.98), (7.920, -2.05),
    (7.925, -1.12), (7.930, -0.68), (7.935, -1.42), (7.940, -0.90), (7.945, -1.78), (7.950, -0.40), (7.955, -1.20),
    (7.960, -0.75), (7.965, -1.58), (7.970, -1.00), (7.975, -0.58), (7.980, -1.35), (7.985, -0.88), (7.990, -2.15),
    (7.995, -1.08), (8.000, -0.66), (8.005, -1.48), (8.010, -0.20), (8.015, -1.18), (8.020, -0.82), (8.025, -1.65),
    (8.030, -1.02), (8.035, -0.52), (8.040, -1.30), (8.045, -1.90), (8.050, -0.72), (8.055, -1.12), (8.060, -0.45),
    (8.065, -1.55), (8.070, -0.92), (8.075, -1.38), (8.080, -0.62), (8.085, -1.82), (8.090, -1.05), (8.095, -0.78),
    (8.100, -1.25), (8.105, -0.35), (8.110, -1.60), (8.115, -0.98), (8.120, -1.40), (8.125, -0.70), (8.130, -2.20),
    (8.135, -1.15), (8.140, -0.55), (8.145, -1.72), (8.150, -0.88), (8.155, -1.32), (8.160, -1.02), (8.165, -0.64),
    (8.170, -1.50), (8.175, -0.82), (8.180, -1.95), (8.185, -1.10), (8.190, -0.48), (8.195, -1.42), (8.200, -0.96),
    (8.205, -1.68), (8.210, -0.74), (8.215, -1.22), (8.220, -0.60), (8.225, -1.85), (8.230, -1.05), (8.235, -0.15),
    (8.240, -1.35), (8.245, -0.86), (8.250, -1.58), (8.255, -1.18), (8.260, -0.70), (8.265, -2.08), (8.270, -0.95),
    (8.275, -1.45), (8.280, -0.58), (8.285, -1.28), (8.290, -1.75), (8.295, -0.80), (8.300, -1.12), (8.305, -0.42),
    (8.310, -1.62), (8.315, -1.00), (8.320, -1.38), (8.325, -0.68), (8.330, -1.92), (8.335, -1.08), (8.340, -0.88),
    (8.345, -1.52), (8.350, -0.52), (8.355, -1.25), (8.360, -2.25), (8.365, -0.98), (8.370, -1.70), (8.375, -0.76),
    (8.380, -1.15), (8.385, -0.40), (8.390, -1.48), (8.395, -1.02), (8.400, -1.82), (8.405, -0.62), (8.410, -1.32),
    (8.415, -0.90), (8.420, -1.60), (8.425, -1.10), (8.430, -0.72), (8.435, -2.00), (8.440, -1.22), (8.445, -0.55),
    (8.450, -1.42), (8.455, -0.84), (8.460, -1.78), (8.465, -1.05),
    (8.52, -0.22), (8.58, -0.12), (8.64, -0.28), (8.70, -0.18), (8.76, -0.25), (8.55, -0.35), (8.73, -0.05),
    (8.80, -0.32),
    (8.82, -1.20), (8.83, -1.65), (8.84, -0.88), (8.85, -2.10), (8.86, -1.40), (8.87, -1.02), (8.88, -1.80),
    (8.89, -1.28), (8.90, -0.78), (8.91, -1.55), (8.92, -2.30), (8.93, -1.15), (8.94, -1.70), (8.95, -0.95),
    (8.96, -1.45), (8.97, -2.00), (8.98, -1.25), (8.99, -1.60), (9.00, -0.85), (9.01, -1.90), (9.02, -1.35),
    (9.03, -1.08), (9.04, -2.22), (9.05, -1.50), (9.06, -0.70), (9.07, -1.75), (9.08, -1.18), (9.09, -2.40),
    (9.10, -1.42), (9.11, -0.98), (9.12, -1.62), (9.13, -1.30), (9.14, -2.05), (9.15, -0.82), (9.16, -1.52),
    (9.17, -1.85), (9.18, -1.12), (9.19, -2.28), (9.20, -1.38), (9.21, -0.92), (9.22, -1.68), (9.23, -2.15),
    (9.24, -1.22), (9.25, -1.55), (9.26, -0.76), (9.27, -1.95), (9.28, -1.45), (9.29, -2.35), (9.30, -1.05),
    (9.31, -1.72), (9.32, -1.32), (9.34, -0.63), (9.35, -1.88), (9.36, -1.48), (9.38, -2.25), (9.39, -1.15),
    (9.40, -1.62), (9.42, -1.35), (9.43, -2.02), (9.45, -0.95), (9.46, -1.78), (9.48, -1.28), (9.50, -2.42),
    (9.52, -1.55), (9.54, -1.10), (9.56, -1.92), (9.58, -1.40), (9.00, -0.48), (8.95, -2.45), (9.10, -2.48),
    (8.85, -0.60), (8.90, -2.42), (9.05, -0.55), (9.20, -2.45), (8.88, -0.72),
]
bot_black_more = [
    (8.213, -1.06), (7.904, -0.78), (8.377, -1.32), (8.052, -0.94), (8.441, -1.55), (7.866, -1.12), (8.168, -0.66),
    (8.309, -1.72), (7.987, -1.28), (8.256, -0.88), (8.118, -1.44), (7.842, -0.62), (8.403, -1.02), (8.027, -1.62),
    (8.289, -0.72), (7.951, -1.36), (8.189, -1.18), (8.462, -0.76), (8.081, -1.08), (7.893, -1.52), (8.338, -0.92),
    (8.142, -1.70), (7.926, -0.96), (8.232, -1.30), (8.396, -0.64), (8.011, -1.16), (8.271, -1.48), (7.858, -1.04),
    (8.176, -0.82), (8.425, -1.20), (8.063, -0.58), (8.318, -1.10), (7.972, -1.66), (8.205, -0.98), (8.452, -1.34),
    (8.098, -0.74), (7.881, -1.24), (8.352, -1.58), (8.031, -1.00), (8.247, -0.68), (8.157, -1.26), (7.919, -1.74),
    (8.384, -0.86), (8.074, -1.38), (8.297, -1.14), (7.963, -0.70), (8.226, -1.60), (8.433, -1.06), (8.129, -0.90),
    (7.848, -1.46), (8.362, -1.22), (8.043, -1.80), (8.264, -0.94), (7.935, -1.14), (8.195, -1.40), (8.418, -0.80),
    (8.087, -1.54), (7.876, -0.88), (8.326, -1.32), (8.006, -0.76), (8.241, -1.20), (8.459, -1.68), (8.113, -1.02),
    (7.911, -1.32), (8.345, -0.70), (8.058, -1.24), (8.282, -1.62), (7.979, -1.04), (8.183, -0.62), (8.408, -1.44),
    (8.136, -1.12), (7.889, -0.96), (8.371, -1.76), (8.019, -1.36), (8.252, -1.08), (7.944, -0.84), (8.219, -1.50),
    (8.446, -0.92), (8.092, -1.18), (8.304, -0.80),
    (7.41, -1.14), (7.23, -0.82), (7.45, -0.62), (7.16, -1.24), (7.38, -1.40), (7.29, -0.66), (7.47, -1.18),
    (7.12, -0.90), (7.35, -0.54), (7.44, -1.52), (7.26, -1.06), (7.39, -0.88), (7.19, -0.58), (7.46, -0.98),
    (7.32, -1.28), (7.42, -0.72), (7.21, -1.46), (7.37, -1.02), (7.48, -0.80), (7.14, -0.74), (7.33, -0.86),
    (7.43, -1.30), (7.27, -1.16), (7.40, -0.50), (7.24, -0.94), (7.45, -1.08), (7.31, -1.62), (7.36, -0.76),
    (7.47, -1.40), (7.18, -1.00),
    (8.84, -1.32), (8.97, -1.58), (8.89, -1.10), (9.06, -1.28), (8.93, -1.86), (9.14, -1.48), (8.86, -1.62),
    (9.02, -0.98), (8.91, -1.40), (9.19, -1.72), (8.83, -1.00), (8.99, -1.20), (9.09, -1.66), (8.88, -1.92),
    (9.24, -1.36), (8.95, -1.30), (9.04, -1.80), (8.87, -1.44), (9.12, -1.14), (8.92, -1.06), (9.17, -1.58),
    (8.85, -1.76), (9.00, -1.48), (9.28, -1.62), (8.94, -1.54), (9.08, -1.40), (8.90, -1.22), (9.22, -1.84),
    (8.96, -0.90), (9.11, -1.96), (8.83, -1.50), (9.01, -1.68), (9.15, -1.24), (8.98, -2.10), (9.26, -1.18),
    (8.86, -1.16), (9.05, -2.02), (9.32, -1.56), (8.93, -1.38), (9.03, -1.52),
    (6.61, -0.88), (6.74, -1.20), (6.86, -0.62), (6.97, -1.30), (6.69, -0.40), (6.81, -1.02), (6.91, -0.52),
    (7.04, -0.96), (6.56, -0.72), (6.89, -1.48),
]

# axis ranges / tick labels
z_lim = (10 ** -1.2, 1.0)
lum_lim = (10 ** 42.39, 1e46)
mbh_lim = (10 ** 6.5, 10 ** 9.6)
edd_lim = (10 ** -2.5, 10 ** 0.44)
z_ticks, z_labels = [0.1, 1.0], ['.1', '1']
lum_ticks = [1e43, 1e44, 1e45, 1e46]
lum_labels = [r'$10^{43}$', r'$10^{44}$', r'$10^{45}$', r'$10^{46}$']
mbh_ticks = [1e7, 1e8, 1e9]
mbh_labels = [r'$10^{7}$', r'$10^{8}$', r'$10^{9}$']
edd_ticks = [0.01, 0.1, 1.0]
edd_labels = ['.01', '.1', '1']

sns.set_style('ticks')
plt.rcParams['font.family'] = ['Liberation Sans', 'DejaVu Sans']
plt.rcParams['mathtext.fontset'] = 'custom'
plt.rcParams['mathtext.rm'] = 'Liberation Sans'
plt.rcParams['mathtext.it'] = 'Liberation Sans:italic'
plt.rcParams['mathtext.bf'] = 'Liberation Sans:bold'

EDGE = '#3c3c3c'
BLACK_S = 3.4
MAG_S = 17
COL_S = 21


def unzip(pts):
    a = np.array(pts, dtype=float)
    return a[:, 0], a[:, 1]


def dots(ax, x, y, color, size, z=2):
    n = min(len(x), len(y))
    sns.scatterplot(x=np.asarray(x[:n]), y=np.asarray(y[:n]), ax=ax, color=color, marker='s',
                    s=size, linewidth=0, edgecolor='none', legend=False, zorder=z)


def style(ax, xlim, xt, xl, ylim, yt, yl, xpad):
    ax.set_xscale('log')
    ax.set_yscale('log')
    ax.set_xlim(*xlim)
    ax.set_ylim(*ylim)
    ax.set_xticks(xt)
    ax.set_xticklabels(xl)
    ax.set_yticks(yt)
    ax.set_yticklabels(yl)
    ax.xaxis.set_minor_locator(LogLocator(base=10, subs=np.arange(2, 10), numticks=30))
    ax.yaxis.set_minor_locator(LogLocator(base=10, subs=np.arange(2, 10), numticks=30))
    ax.xaxis.set_minor_formatter(NullFormatter())
    ax.yaxis.set_minor_formatter(NullFormatter())
    ax.tick_params(which='both', direction='in', top=True, right=True, width=1.5, color=EDGE,
                   labelsize=16, labelcolor='black')
    ax.tick_params(which='major', length=17)
    ax.tick_params(which='minor', length=9.5)
    ax.tick_params(axis='x', which='both', pad=xpad)
    ax.tick_params(axis='y', which='both', pad=10)
    for sp in ax.spines.values():
        sp.set_linewidth(1.7)
        sp.set_color(EDGE)
    ax.set_xlabel('')
    ax.set_ylabel('')


fig = plt.figure(figsize=(8.3, 10.75), dpi=100)
W, H = 830.0, 1075.0
left, width = 146 / W, 586 / W
ax1 = fig.add_axes([left, 1 - 345 / H, width, 248 / H])
ax2 = fig.add_axes([left, 1 - 637 / H, width, 248 / H])
ax3 = fig.add_axes([left, 1 - 928 / H, width, 247 / H])

# top panel
tz, tl = unzip(top_black + top_black_more)
mz, ml = unzip(top_magenta)
dots(ax1, tz, 10 ** tl, 'black', BLACK_S)
dots(ax1, mz, 10 ** ml, '#ff00ff', MAG_S, z=3)
style(ax1, z_lim, z_ticks, z_labels, lum_lim, lum_ticks, lum_labels, xpad=12)
ax1.set_title('z', fontsize=16, pad=19)
ax1.set_ylabel('L(5100A) erg/sec', fontsize=17, va='center')
ax1.yaxis.set_label_coords(-0.143, 0.5)

# middle panel
dz, dm = unzip(mid_black + mid_black_more)
dots(ax2, dz, 10 ** dm, 'black', BLACK_S)
dots(ax2, red_z, 10 ** np.array(red_logm), '#ff0000', COL_S, z=3)
dots(ax2, blue_z, 10 ** np.array(blue_logm), '#0000ff', COL_S, z=3)
style(ax2, z_lim, z_ticks, z_labels, mbh_lim, mbh_ticks, mbh_labels, xpad=13)
ax2.set_ylabel('M(BH)', fontsize=17, va='center')
ax2.yaxis.set_label_coords(-0.143, 0.5)

# bottom panel
bm, bl = unzip(bot_black + bot_black_more)
dots(ax3, 10 ** bm, 10 ** bl, 'black', BLACK_S)
dots(ax3, 10 ** np.array(red_logm), 10 ** np.array(red_loglam), '#ff0000', COL_S, z=3)
dots(ax3, 10 ** np.array(blue_logm), 10 ** np.array(blue_loglam), '#0000ff', COL_S, z=3)
style(ax3, mbh_lim, mbh_ticks, mbh_labels, edd_lim, edd_ticks, edd_labels, xpad=10)
ax3.set_xlabel('M(BH)', fontsize=17, va='center')
ax3.xaxis.set_label_coords(0.5, -0.25)
ax3.set_ylabel(r'L/L$_{\mathrm{Edd}}$', fontsize=17, va='center')
ax3.yaxis.set_label_coords(-0.143, 0.5)

fig.savefig('out.png', dpi=100)
